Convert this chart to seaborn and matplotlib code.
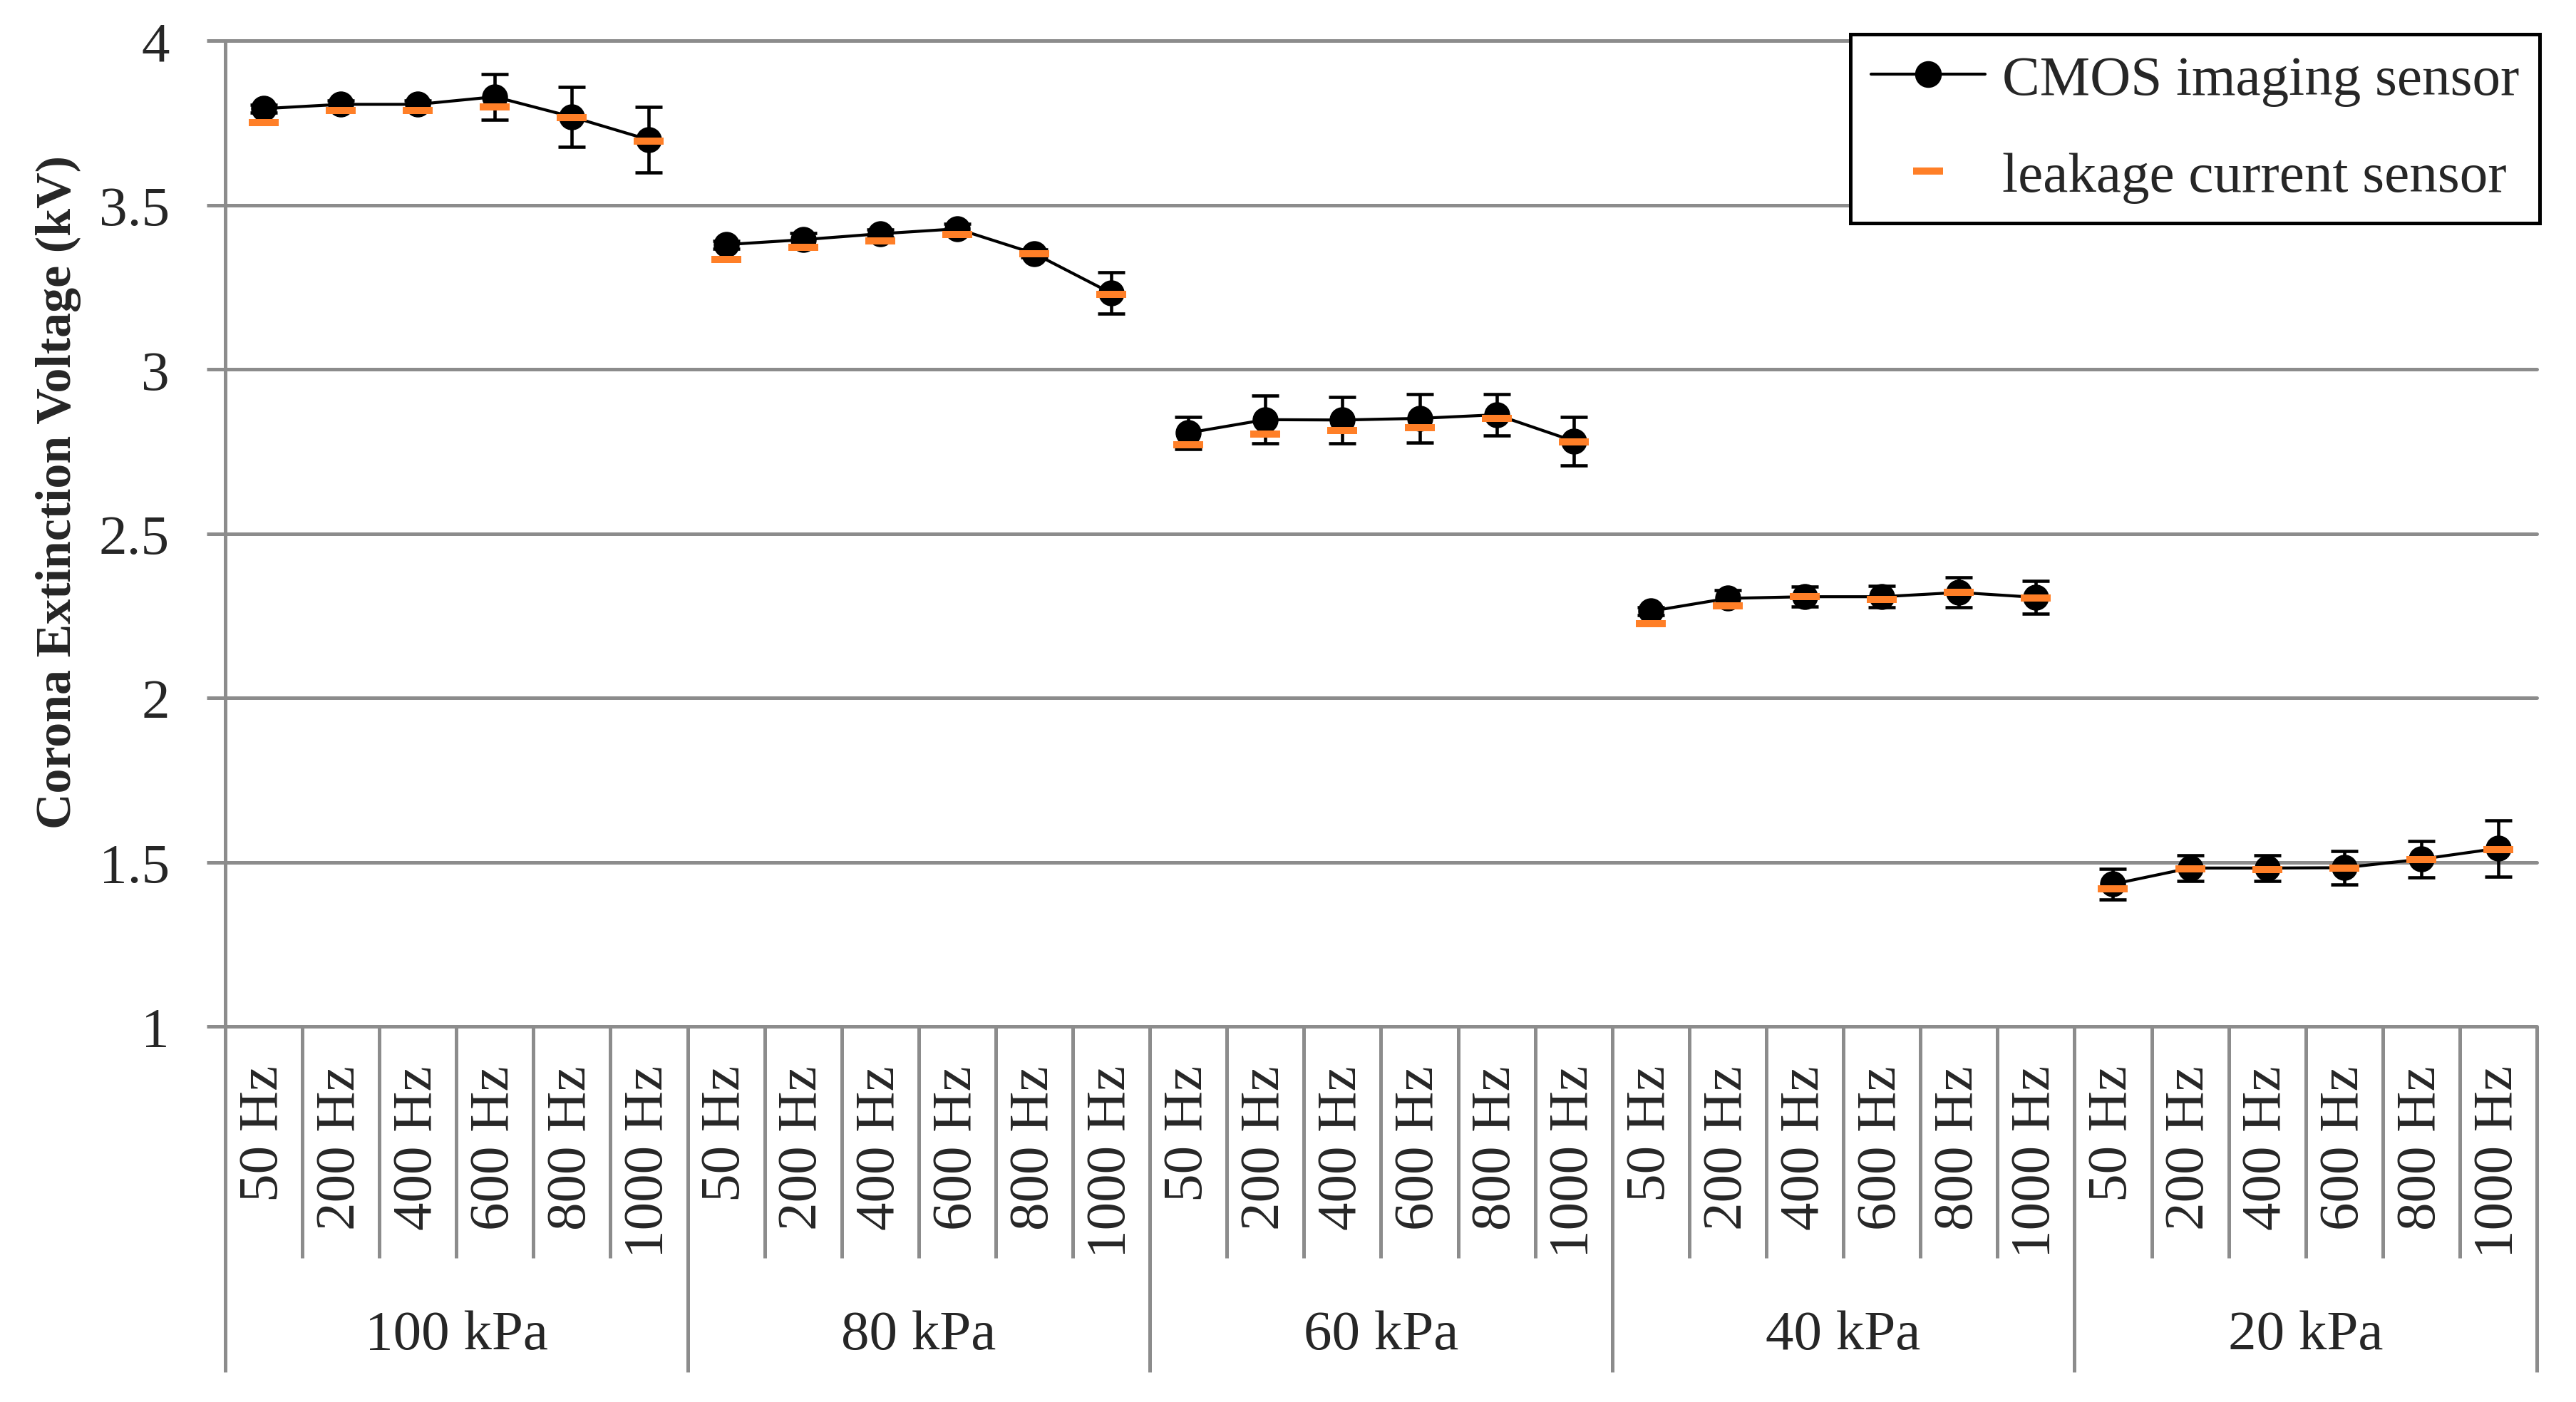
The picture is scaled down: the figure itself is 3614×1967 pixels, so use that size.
import numpy as np
import pandas as pd
import matplotlib
matplotlib.use('Agg')
import matplotlib.pyplot as plt
import matplotlib.transforms as mtransforms
from matplotlib.lines import Line2D
import seaborn as sns

# data
pressures = ['100 kPa', '80 kPa', '60 kPa', '40 kPa', '20 kPa']
freqs = ['50 Hz', '200 Hz', '400 Hz', '600 Hz', '800 Hz', '1000 Hz']
cmos = [3.794, 3.807, 3.807, 3.830, 3.769, 3.699,
        3.380, 3.395, 3.413, 3.428, 3.353, 3.232,
        2.807, 2.847, 2.846, 2.851, 2.862, 2.782,
        2.264, 2.303, 2.308, 2.308, 2.321, 2.306,
        1.433, 1.482, 1.482, 1.483, 1.509, 1.542]
cmos_err = [0.012, 0.012, 0.012, 0.070, 0.092, 0.100,
            0.012, 0.020, 0.012, 0.015, 0.012, 0.063,
            0.049, 0.073, 0.070, 0.074, 0.063, 0.074,
            0.012, 0.026, 0.031, 0.033, 0.046, 0.050,
            0.047, 0.039, 0.039, 0.051, 0.055, 0.086]
leakage = [3.752, 3.789, 3.789, 3.800, 3.766, 3.696,
           3.334, 3.371, 3.392, 3.411, 3.352, 3.229,
           2.771, 2.803, 2.815, 2.822, 2.850, 2.779,
           2.225, 2.280, 2.308, 2.299, 2.321, 2.305,
           1.419, 1.480, 1.478, 1.481, 1.507, 1.539]

df = pd.DataFrame({
    'pressure': np.repeat(pressures, len(freqs)),
    'freq': freqs * len(pressures),
    'cmos': cmos,
    'err': cmos_err,
    'leakage': leakage,
})
df['pos'] = np.arange(len(df))

sns.set_theme(style='white')
plt.rcParams['font.family'] = ['Liberation Serif', 'DejaVu Serif']

GRID = '#8c8c8c'
ORANGE = '#ff7f27'
FS = 19

fig = plt.figure(figsize=(3614 / 300, 1968 / 300), dpi=300)
ax = fig.add_axes([0.0874, 0.2678, 0.9848 - 0.0874, 0.9703 - 0.2678])

# black line per pressure group
sns.lineplot(data=df, x='pos', y='cmos', units='pressure', estimator=None,
             color='black', linewidth=1.0, marker='o', markersize=8,
             markeredgecolor='black', markerfacecolor='black', ax=ax, zorder=3,
             legend=False)
ax.errorbar(df['pos'], df['cmos'], yerr=df['err'], fmt='none', ecolor='black',
            elinewidth=1.1, capsize=4.6, capthick=1.1, zorder=4)
sns.scatterplot(data=df, x='pos', y='leakage', marker='_', s=100,
                color=ORANGE, linewidth=2.4, ax=ax, zorder=5, legend=False)

ax.set_xlim(-0.5, len(df) - 0.5)
ax.set_ylim(1, 4)
ax.set_yticks([1, 1.5, 2, 2.5, 3, 3.5, 4])
ax.set_yticklabels(['1', '1.5', '2', '2.5', '3', '3.5', '4'], fontsize=FS)
ax.yaxis.grid(True, color=GRID, linewidth=1.2)
for gl in ax.get_ygridlines():
    gl.set_clip_on(False)
ax.tick_params(axis='y', length=6.2, width=1.2, color=GRID, pad=12.5,
               direction='out', left=True)
for s in ['top', 'right', 'bottom']:
    ax.spines[s].set_visible(False)
ax.spines['left'].set_color(GRID)
ax.spines['left'].set_linewidth(1.2)

ax.set_xticks(df['pos'])
ax.set_xticklabels(df['freq'], rotation=90, fontsize=FS)
ax.tick_params(axis='x', length=0, pad=13)
ax.set_xlabel('')
ax.set_ylabel('')

# category dividers and pressure group labels
trans = mtransforms.blended_transform_factory(ax.transData, ax.transAxes)
n = len(freqs)
for i in range(len(df) + 1):
    x = i - 0.5
    ybot = -0.351 if i % n == 0 else -0.2354
    ax.plot([x, x], [0, ybot], color=GRID, linewidth=1.2, transform=trans,
            clip_on=False, solid_capstyle='butt')
for g, p in enumerate(pressures):
    ax.text(g * n + (n - 1) / 2, -0.3135, p, transform=trans, ha='center',
            va='center', fontsize=FS)

fig.text(82 / 3614, 0.649, 'Corona Extinction Voltage (kV)', rotation=90,
         ha='center', va='center', fontsize=16.8, fontweight='bold')

handles = [
    Line2D([], [], color='black', linewidth=1.0, marker='o', markersize=8),
    Line2D([], [], color=ORANGE, linestyle='none', marker='_', markersize=10,
           markeredgewidth=2.4),
]
leg = fig.legend(handles, ['CMOS imaging sensor', 'leakage current sensor'],
                 loc='upper right', bbox_to_anchor=(0.9859, 0.9751),
                 bbox_transform=fig.transFigure, fontsize=FS, frameon=True,
                 fancybox=False, edgecolor='black', borderpad=0.36,
                 labelspacing=0.8, handlelength=2.03, handletextpad=0.3,
                 borderaxespad=0)
leg.get_frame().set_linewidth(1.2)
leg.get_frame().set_alpha(1)

fig.savefig('out.png', dpi=300, facecolor='white')
